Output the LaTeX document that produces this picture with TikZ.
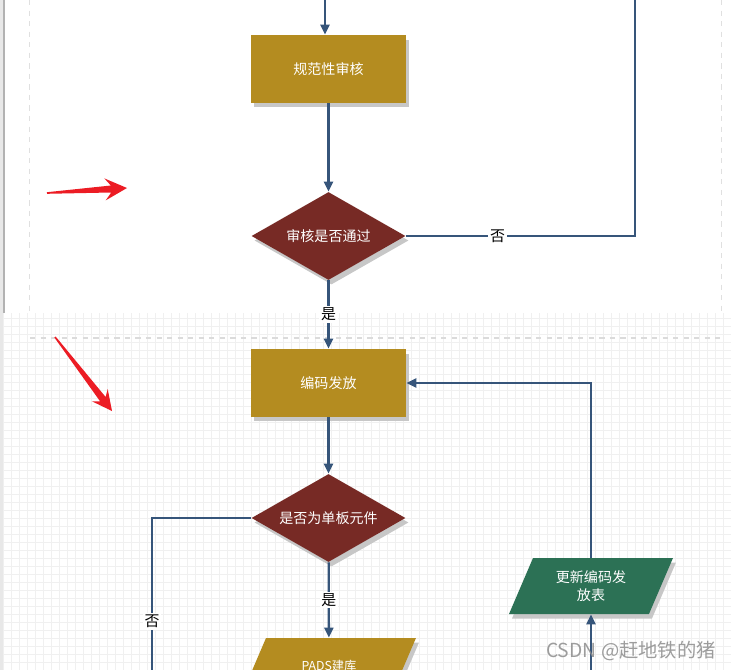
\documentclass[tikz,border=0pt]{standalone}
\usepackage{fontspec}
\newfontfamily\cjk{Noto Sans CJK SC}
\usetikzlibrary{arrows.meta,shapes.geometric,shadows}
\definecolor{boxgold}{HTML}{B48C20}
\definecolor{askred}{HTML}{772A25}
\definecolor{tblgreen}{HTML}{2C7155}
\definecolor{flowblue}{HTML}{36557A}
\definecolor{markred}{HTML}{EC1C24}
\definecolor{gridgray}{HTML}{F0F0F0}

\begin{document}
\begin{tikzpicture}[x=0.02cm, y=-0.02cm,
	every node/.style={font=\cjk\fontsize{8}{10}\selectfont},
	>={Triangle[length=2mm,width=1.8mm]},
	shade/.style={drop shadow={shadow xshift=0.06cm, shadow yshift=-0.09cm, fill=black!22, opacity=1}},
	procbox/.style={rectangle, fill=boxgold, text=white, minimum width=3.1cm, minimum height=1.36cm, inner sep=0, shade},
	decision/.style={diamond, fill=askred, text=white, aspect=1.75, minimum width=3.08cm, minimum height=1.76cm, inner sep=0, shade},
	iobox/.style={trapezium, trapezium left angle=66.8, trapezium right angle=113.2, minimum width=0pt, minimum height=0pt, inner ysep=0.56cm, shade},
	iotext/.style={text=white, align=center, inner sep=0},
	line/.style={draw=flowblue, line width=1.3pt},
	flow/.style={line, ->},
	lbl/.style={fill=white, inner sep=1pt, text=black, font=\cjk\fontsize{8.5}{10}\selectfont}]
	\useasboundingbox (0,0) rectangle (731,670);
	\fill[white] (0,0) rectangle (731,670);
	\fill[black!9] (0,0) rectangle (3,670);
	\draw[black!30, line width=0.6pt] (4,0) -- (4,313);
	\draw[black!12, dashed] (29,0) -- (29,313);
	\draw[black!12, dashed] (721,0) -- (721,313);
	\foreach \gx in {3,11,...,731} {
		\draw[gridgray, line width=0.5pt] (\gx,313) -- (\gx,670);
	}
	\foreach \gy in {318,326,...,670} {
		\draw[gridgray, line width=0.5pt] (4,\gy) -- (731,\gy);
	}
	\draw[black!14, dashed, line width=0.6pt] (30,338) -- (721,338);
	\fill[markred] (47.05,193.8) -- (111.25,192.49) -- (105.73,200.35) -- (127,188) -- (104.35,178.39) -- (110.81,185.51) -- (46.95,192.2) -- cycle;
	\fill[markred] (54.37,337.49) -- (100.08,401.26) -- (91.88,401.26) -- (112,411) -- (107.72,389.06) -- (105.62,396.99) -- (55.63,336.51) -- cycle;
	\node[procbox] (check) at (328.5,69) {规范性审核};
	\node[decision] (pass) at (328.5,236) {审核是否通过};
	\node[procbox] (issue) at (328.5,383) {编码发放};
	\node[decision] (single) at (328.5,518) {是否为单板元件};
	\node[iobox, fill=boxgold, inner xsep=1.26cm] (pads) at (329,666) {};
	\node[iotext, font=\cjk\fontsize{7}{8}\selectfont] (padstext) at (pads) {PADS建库};
	\node[iobox, fill=tblgreen, inner xsep=1.16cm] (update) at (591,586) {};
	\node[iotext] (updatetext) at (update) {更新编码发\\放表};
	\coordinate (topin) at (325,0);
	\coordinate (topback) at (635,0);
	\coordinate (leftdown) at (152,670);
	\coordinate (upin) at (591,670);
	\draw[flow] (topin) -- (topin |- check.north);
	\draw[flow] (check) -- (pass);
	\draw[line] (pass.east) -| node[lbl, pos=0.2] (passno) {否} (topback);
	\draw[flow] (pass) -- node[lbl] (passyes) {是} (issue);
	\draw[flow] (issue) -- (single);
	\draw[flow] (single) -- node[lbl] (singleyes) {是} (pads);
	\draw[line] (single.west) -| node[lbl, pos=0.84] (singleno) {否} (leftdown);
	\draw[flow] (upin) -- (update.south);
	\draw[flow] (update.north) |- (issue.east);
	\node[text=black!45, opacity=0.85, font=\cjk\fontsize{11}{12}\selectfont] (mark) at (631,651) {CSDN @赶地铁的猪};
\end{tikzpicture}
\end{document}
